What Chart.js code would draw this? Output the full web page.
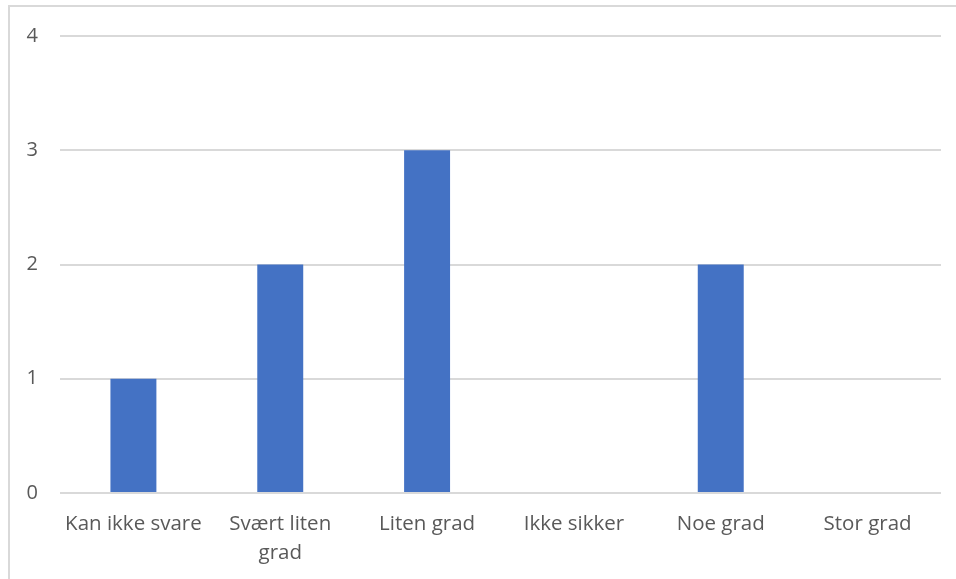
<!DOCTYPE html>
<html>
<head>
<meta charset="utf-8">
<script src="https://cdn.jsdelivr.net/npm/chart.js@4/dist/chart.umd.min.js"></script>
<style>
  html, body { margin: 0; padding: 0; background: #fff; }
  #wrap { position: relative; width: 956px; height: 579px; overflow: hidden; }
  #frame { position: absolute; left: 8px; top: 5px; right: -10px; bottom: -10px;
           border-left: 2px solid #d9d9d9; border-top: 2px solid #d9d9d9; }
  canvas { position: absolute; left: 0; top: 0; }
</style>
</head>
<body>
<div id="wrap">
  <div id="frame"></div>
  <canvas id="c" width="956" height="579"></canvas>
</div>
<script>
// Svarfordeling per kategori
const categories = [
  'Kan ikke svare',
  ['Svært liten', 'grad'],
  'Liten grad',
  'Ikke sikker',
  'Noe grad',
  'Stor grad'
];
const counts = [1, 2, 3, 0, 2, 0];
const yTicks = [0, 1, 2, 3, 4];

const textColor = '#595959';
const fontFamily = "'Open Sans', 'Noto Sans', sans-serif";

new Chart(document.getElementById('c'), {
  type: 'bar',
  data: {
    labels: categories,
    datasets: [{
      data: counts,
      backgroundColor: '#4472c4',
      borderWidth: 0,
      categoryPercentage: 1,
      barPercentage: 0.313
    }]
  },
  options: {
    responsive: false,
    animation: false,
    events: [],
    layout: { padding: { top: 36, right: 15, bottom: 0, left: 0 } },
    plugins: { legend: { display: false }, tooltip: { enabled: false } },
    scales: {
      x: {
        grid: { display: false },
        border: { display: false },
        ticks: {
          color: textColor,
          font: { family: fontFamily, size: 20.5, lineHeight: 1.4 },
          padding: 9,
          maxRotation: 0,
          autoSkip: false
        },
        afterFit(scale) { scale.height = 86; }
      },
      y: {
        min: 0,
        max: 4,
        afterBuildTicks(scale) { scale.ticks = yTicks.map(v => ({ value: v })); },
        grid: { color: '#d9d9d9', lineWidth: 2, drawTicks: false },
        border: { display: false },
        ticks: {
          color: textColor,
          font: { family: fontFamily, size: 20 },
          padding: 22
        },
        afterFit(scale) { scale.width = 60; }
      }
    }
  }
});
</script>
</body>
</html>
